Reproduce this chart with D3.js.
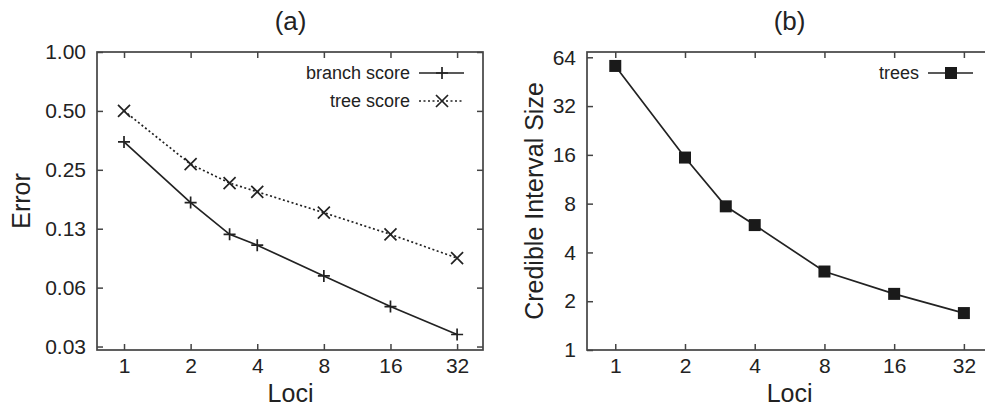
<!DOCTYPE html>
<html>
<head>
<meta charset="utf-8">
<script src="https://cdn.jsdelivr.net/npm/d3@7"></script>
<style>
  body { margin: 0; background: #fff; }
  svg { display: block; font-family: "Liberation Sans", Arial, sans-serif; }
</style>
</head>
<body>
<script>
// loci (x values shared by both panels)
const loci = [1, 2, 3, 4, 8, 16, 32];
const lociTicks = [1, 2, 4, 8, 16, 32];

// panel (a): error
const branchScore = [0.347, 0.170, 0.117, 0.103, 0.0717, 0.050, 0.036];
const treeScore = [0.50, 0.267, 0.214, 0.193, 0.151, 0.117, 0.0885];
const errorTicks = [1, 0.5, 0.25, 0.125, 0.0625, 0.03125];
const errorTickLabels = ['1.00', '0.50', '0.25', '0.13', '0.06', '0.03'];

// panel (b): credible interval size
const trees = [56.6, 15.4, 7.7, 5.9, 3.05, 2.22, 1.69];
const sizeTicks = [1, 2, 4, 8, 16, 32, 64];

const width = 985, height = 414;
const ink = '#222';

const svg = d3.select('body')
  .append('svg')
  .attr('width', width)
  .attr('height', height);

const plotTop = 52, plotBottom = 350;

function panel(opts) {
  const x = d3.scaleLog().base(2).domain([0.755, 41.9]).range([opts.left, opts.right]);
  const y = d3.scaleLog().base(2).domain(opts.yDomain).range([plotBottom, plotTop]);
  const g = svg.append('g');

  // frame
  g.append('rect')
    .attr('x', opts.left).attr('y', plotTop)
    .attr('width', opts.right - opts.left).attr('height', plotBottom - plotTop)
    .attr('fill', 'none').attr('stroke', '#444').attr('stroke-width', 1.7);

  const styleAxis = (sel, showText) => {
    sel.select('.domain').remove();
    sel.selectAll('line').attr('stroke', '#444').attr('stroke-width', 1.5);
    sel.selectAll('text').attr('fill', ink).style('font-size', '21px')
      .style('display', showText ? null : 'none');
  };

  g.append('g').attr('transform', `translate(0,${plotBottom})`)
    .call(d3.axisBottom(x).tickValues(lociTicks).tickFormat(d3.format('d')).tickSize(-6).tickPadding(8))
    .call(s => styleAxis(s, true));
  g.append('g').attr('transform', `translate(0,${plotTop})`)
    .call(d3.axisTop(x).tickValues(lociTicks).tickSize(-6))
    .call(s => styleAxis(s, false));
  g.append('g').attr('transform', `translate(${opts.left},0)`)
    .call(d3.axisLeft(y).tickValues(opts.yTicks).tickFormat((d, i) => opts.yLabels[i]).tickSize(-6).tickPadding(11))
    .call(s => styleAxis(s, true));
  g.append('g').attr('transform', `translate(${opts.right},0)`)
    .call(d3.axisRight(y).tickValues(opts.yTicks).tickSize(-6))
    .call(s => styleAxis(s, false));

  // titles
  const cx = (x(1) + x(32)) / 2;
  g.append('text').attr('x', cx).attr('y', 30).attr('text-anchor', 'middle')
    .attr('fill', ink).style('font-size', '26px').text(opts.title);
  g.append('text').attr('x', cx).attr('y', 402).attr('text-anchor', 'middle')
    .attr('fill', ink).style('font-size', '25px').text('Loci');
  g.append('text')
    .attr('transform', `translate(${opts.yLabelX},${(plotTop + plotBottom) / 2}) rotate(-90)`)
    .attr('text-anchor', 'middle').attr('fill', ink).style('font-size', '25px')
    .text(opts.yLabel);

  return { x, y, g };
}

function marker(g, type, cx, cy) {
  const r = 6;
  if (type === 'plus') {
    g.append('path').attr('d', `M${cx - r},${cy}H${cx + r}M${cx},${cy - r}V${cy + r}`)
      .attr('stroke', ink).attr('stroke-width', 1.7).attr('fill', 'none');
  } else if (type === 'cross') {
    g.append('path').attr('d', `M${cx - r},${cy - r}L${cx + r},${cy + r}M${cx - r},${cy + r}L${cx + r},${cy - r}`)
      .attr('stroke', ink).attr('stroke-width', 1.7).attr('fill', 'none');
  } else {
    g.append('rect').attr('x', cx - r).attr('y', cy - r).attr('width', 2 * r).attr('height', 2 * r)
      .attr('fill', '#1a1a1a');
  }
}

function series(p, values, type, dash, legendText, legendY, legendX) {
  const line = d3.line().x((d, i) => p.x(loci[i])).y(d => p.y(d));
  p.g.append('path').datum(values)
    .attr('d', line).attr('fill', 'none').attr('stroke', ink).attr('stroke-width', 1.7)
    .attr('stroke-dasharray', dash);
  values.forEach((v, i) => marker(p.g, type, p.x(loci[i]), p.y(v)));

  // legend
  p.g.append('text').attr('x', legendX).attr('y', legendY).attr('dy', '0.35em')
    .attr('text-anchor', 'end').attr('fill', ink).style('font-size', '18px').text(legendText);
  p.g.append('line').attr('x1', legendX + 9).attr('x2', legendX + 54)
    .attr('y1', legendY).attr('y2', legendY)
    .attr('stroke', ink).attr('stroke-width', 1.7).attr('stroke-dasharray', dash);
  marker(p.g, type, legendX + 32, legendY);
}

const pa = panel({
  left: 97, right: 483, yDomain: [0.03, 1],
  yTicks: errorTicks, yLabels: errorTickLabels,
  title: '(a)', yLabel: 'Error', yLabelX: 30
});
series(pa, branchScore, 'plus', null, 'branch score', 73, 410);
series(pa, treeScore, 'cross', '2,2.5', 'tree score', 101, 410);

const pb = panel({
  left: 587, right: 991, yDomain: [1, 69],
  yTicks: sizeTicks, yLabels: sizeTicks.map(String),
  title: '(b)', yLabel: 'Credible Interval Size', yLabelX: 543
});
series(pb, trees, 'square', null, 'trees', 73, 919);
</script>
</body>
</html>
